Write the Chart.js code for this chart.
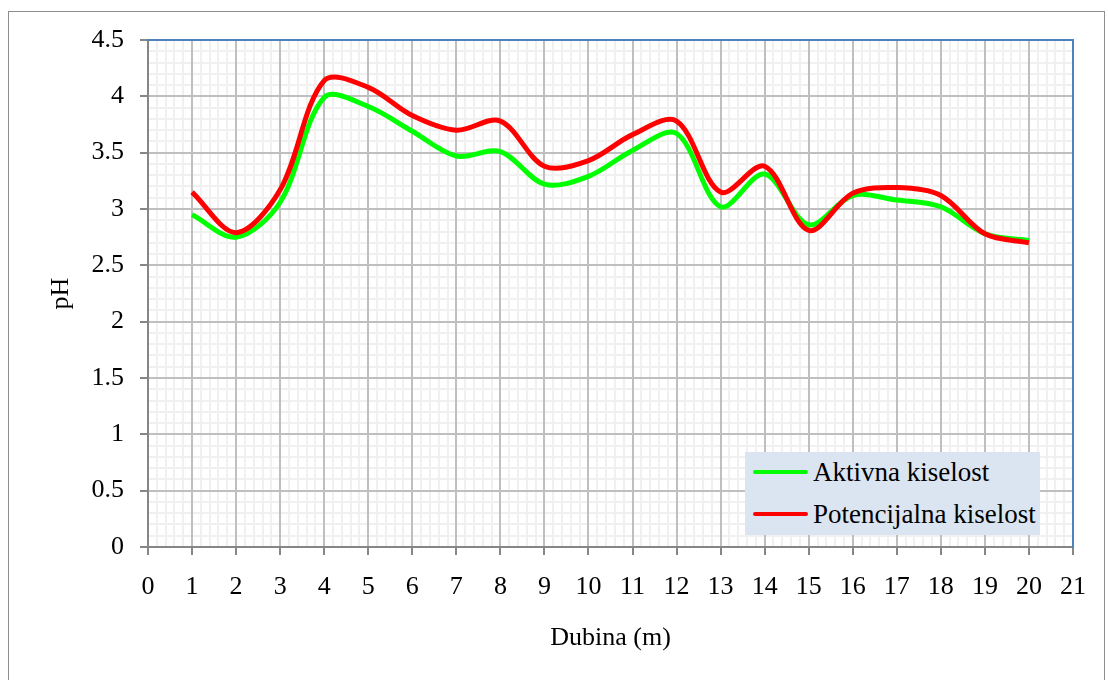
<!DOCTYPE html>
<html>
<head>
<meta charset="utf-8">
<script src="https://cdn.jsdelivr.net/npm/chart.js@4"></script>
<style>
  html, body { margin: 0; padding: 0; background: #ffffff; }
  #wrap { position: relative; width: 1108px; height: 680px; overflow: hidden; }
  #frame { position: absolute; left: 8px; top: 11px; width: 1097px; height: 700px; border: 1px solid #8e8e8e; box-sizing: border-box; pointer-events: none; }
  #c { position: absolute; left: 0; top: 0; }
  #legend { position: absolute; left: 745px; top: 452px; width: 295px; height: 83px; background: #dbe5f1;
            font-family: "Liberation Serif", "Times New Roman", serif; font-size: 27px; color: #000; }
  .item { position: absolute; left: 0; height: 40px; width: 295px; }
  .swatch { position: absolute; left: 8px; width: 55px; height: 4px; border-radius: 2px; }
  .lbl { position: absolute; left: 68px; white-space: nowrap; line-height: 30px; }
</style>
</head>
<body>
<div id="wrap">
  <canvas id="c" width="1108" height="680"></canvas>
  <div id="frame"></div>
  <div id="legend"></div>
</div>
<script>
// ---- data ----
const depths = [1, 2, 3, 4, 5, 6, 7, 8, 9, 10, 11, 12, 13, 14, 15, 16, 17, 18, 19, 20];
const aktivna = [2.95, 2.75, 3.06, 3.99, 3.91, 3.69, 3.47, 3.51, 3.22, 3.29, 3.52, 3.67, 3.02, 3.31, 2.86, 3.12, 3.08, 3.02, 2.78, 2.72];
const potencijalna = [3.15, 2.79, 3.17, 4.14, 4.08, 3.83, 3.70, 3.78, 3.38, 3.43, 3.66, 3.78, 3.15, 3.38, 2.81, 3.14, 3.19, 3.12, 2.78, 2.70];
const seriesNames = ['Aktivna kiselost', 'Potencijalna kiselost'];
const xTickLabels = ['0','1','2','3','4','5','6','7','8','9','10','11','12','13','14','15','16','17','18','19','20','21'];
const yTickLabels = ['0','0.5','1','1.5','2','2.5','3','3.5','4','4.5'];
const xTitle = 'Dubina (m)';
const yTitle = 'pH';

const font = { family: '"Liberation Serif", "Times New Roman", serif', size: 26 };

const toPts = vals => depths.map((d, i) => ({ x: d, y: vals[i] }));

const chart = new Chart(document.getElementById('c'), {
  type: 'line',
  data: {
    datasets: [
      { label: seriesNames[0], data: toPts(aktivna), borderColor: '#00ff00', backgroundColor: '#00ff00',
        borderWidth: 5, pointRadius: 0, tension: 0.33, order: 1, borderJoinStyle: 'round', fill: false },
      { label: seriesNames[1], data: toPts(potencijalna), borderColor: '#ff0000', backgroundColor: '#ff0000',
        borderWidth: 5, pointRadius: 0, tension: 0.33, order: 0, borderJoinStyle: 'round', fill: false }
    ]
  },
  options: {
    responsive: false,
    animation: false,
    events: [],
    layout: { padding: { top: 40, right: 35, left: 0, bottom: 0 } },
    plugins: { legend: { display: false }, tooltip: { enabled: false } },
    scales: {
      x: {
        type: 'linear', position: 'bottom', min: 0, max: 21,
        ticks: { stepSize: 1, autoSkip: false, maxRotation: 0, padding: 17, color: '#000', font,
                 callback: (v, i) => xTickLabels[i] },
        grid: { color: '#bfbfbf', lineWidth: 2, tickLength: 8, tickColor: '#868686', tickWidth: 2, z: -1 },
        border: { display: true, color: '#868686', width: 2 },
        title: { display: true, text: xTitle, color: '#000', font, padding: { top: 0, bottom: 26 } },
        afterFit: s => { s.height = 133; }
      },
      y: {
        type: 'linear', position: 'left', min: 0, max: 4.5,
        ticks: { stepSize: 0.5, autoSkip: false, padding: 16, color: '#000', font,
                 callback: (v, i) => yTickLabels[i] },
        grid: { color: '#bfbfbf', lineWidth: 2, borderDash: [8, 3], tickLength: 8, tickColor: '#868686', tickWidth: 2, tickBorderDash: [], z: -1 },
        border: { display: true, color: '#868686', width: 2 },
        title: { display: true, text: yTitle, color: '#000', font, padding: { top: 46, bottom: 0 } },
        afterFit: s => { s.width = 148; }
      },
      xMinor: {
        type: 'linear', position: 'top', min: 0, max: 21,
        ticks: { display: false, stepSize: 0.2, autoSkip: false, maxTicksLimit: 1000 },
        grid: { color: '#f0f0f0', lineWidth: 2, drawTicks: false, z: -2 },
        border: { display: true, color: '#4f81bd', width: 2 },
        afterFit: s => { s.height = 0; }
      },
      yMinor: {
        type: 'linear', position: 'right', min: 0, max: 4.5,
        ticks: { display: false, stepSize: 0.1, autoSkip: false, maxTicksLimit: 1000 },
        grid: { color: '#f0f0f0', lineWidth: 2, drawTicks: false, z: -2 },
        border: { display: true, color: '#4f81bd', width: 2 },
        afterFit: s => { s.width = 0; }
      }
    }
  }
});

// HTML legend built from the chart's datasets
const legend = document.getElementById('legend');
chart.data.datasets.forEach((ds, i) => {
  const item = document.createElement('div');
  item.className = 'item';
  item.style.top = (i * 42) + 'px';
  const sw = document.createElement('span');
  sw.className = 'swatch';
  sw.style.background = ds.borderColor;
  sw.style.top = '18px';
  const lb = document.createElement('span');
  lb.className = 'lbl';
  lb.style.top = '5px';
  lb.textContent = ds.label;
  item.appendChild(sw);
  item.appendChild(lb);
  legend.appendChild(item);
});
</script>
</body>
</html>
